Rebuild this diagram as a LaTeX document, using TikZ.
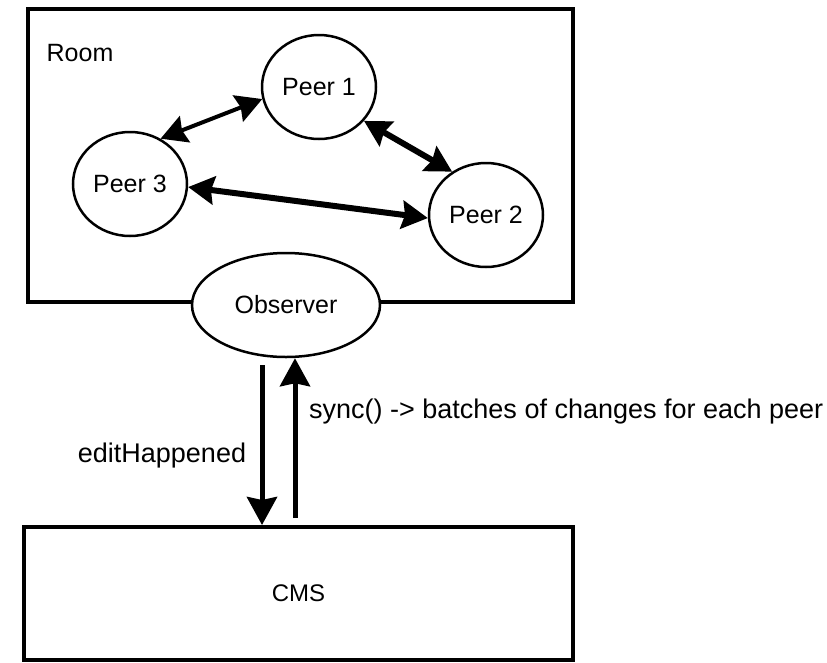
\documentclass[tikz,border=0pt]{standalone}
\usepackage{fontspec}
\setmainfont{Liberation Sans}
\usetikzlibrary{arrows.meta,shapes.geometric,calc}
\begin{document}
\begin{tikzpicture}[x=1pt,y=-1pt,
  peer/.style={draw,ellipse,line width=2.5pt,fill=white,minimum width=114pt,minimum height=104pt,inner sep=0pt,font=\fontsize{25}{30}\selectfont},
  box/.style={draw,rectangle,line width=4pt,inner sep=0pt},
  lbl/.style={inner sep=0pt,font=\fontsize{25}{30}\selectfont},
  biarrow/.style={{Stealth[length=26pt,width=28pt,inset=3pt]}-{Stealth[length=26pt,width=28pt,inset=3pt]}},
  uniarrow/.style={-{Stealth[length=28pt,width=30pt,inset=3pt]},line width=5pt}
]
\useasboundingbox (0,0) rectangle (827,662);
% room
\node[box,minimum width=545pt,minimum height=293pt] (room) at (300.5,155.5) {};
\node[lbl] (roomlbl) at (80,53) {Room};
% peers
\node[peer] (p1) at (319,87) {Peer 1};
\node[peer] (p3) at (130,184) {Peer 3};
\node[peer] (p2) at (486,215) {Peer 2};
% observer
\node[peer,minimum width=188pt] (obs) at (286,305) {Observer};
% CMS
\node[box,minimum width=549pt,minimum height=133pt,font=\fontsize{24}{28}\selectfont] (cms) at (298.5,593.5) {CMS};
% peer arrows
\draw[biarrow,line width=4pt] (p3.56) -- (p1.192);
\draw[biarrow,line width=6pt] (p1.323) -- (p2.128);
\draw[biarrow,line width=6pt] (p3.357) -- (p2.183);
% vertical arrows
\coordinate (dtop) at ($(obs.south)+(-24,7)$);
\coordinate (ubot) at ($(obs.south |- cms.north)+(9,-7)$);
\draw[uniarrow] (dtop) -- (dtop |- cms.north);
\draw[uniarrow] (ubot) -- (ubot |- obs.south);
% labels
\node[lbl,anchor=west,font=\fontsize{27}{31}\selectfont] (synclbl) at (309,412) {sync() -> batches of changes for each peer};
\node[lbl,font=\fontsize{27}{31}\selectfont] (editlbl) at (162,456) {editHappened};
\end{tikzpicture}
\end{document}
